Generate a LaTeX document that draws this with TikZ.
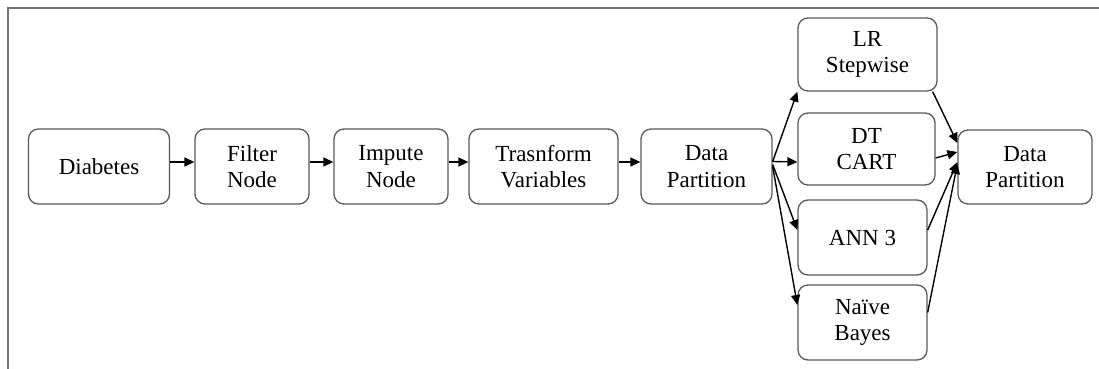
\documentclass[tikz,border=0pt]{standalone}
\usepackage{fontspec}
\setmainfont{LiberationSerif-Regular.ttf}
\usetikzlibrary{arrows.meta}
\begin{document}
\begin{tikzpicture}[x=1pt,y=-1pt,
  box/.style={draw=black!65, line width=1.3pt, rounded corners=10pt, align=center,
    font=\fontsize{23}{26.5}\selectfont, inner sep=0pt, minimum height=75pt},
  arr/.style={-{Triangle[length=10pt,width=9pt]}, line width=1.4pt, black},
  frame/.style={draw=black!55, line width=2pt}]
\useasboundingbox (0,0) rectangle (1099,369);
\draw[frame] (8,380) -- (8,8) -- (1110,8);
\node[box, minimum width=141pt] (dia) at (99,166.5) {Diabetes};
\node[box, minimum width=114pt] (fil) at (252,166.5) {Filter\\Node};
\node[box, minimum width=114pt] (imp) at (391,166.5) {Impute\\Node};
\node[box, minimum width=149pt] (tra) at (543.5,166.5) {Trasnform\\Variables};
\node[box, minimum width=131pt] (dp) at (706.5,166.5) {Data\\Partition};
\node[box, minimum width=139pt, minimum height=73pt] (lr) at (867.5,54.5) {LR\\Stepwise};
\node[box, minimum width=137pt, minimum height=72pt] (dt) at (866.5,149) {DT\\CART};
\node[box, minimum width=129pt] (ann) at (862.5,237.5) {ANN 3};
\node[box, minimum width=129pt] (nb) at (862.5,322.5) {Naïve\\Bayes};
\node[box, minimum width=134pt, minimum height=74pt] (dp2) at (1025,167) {Data\\Partition};
\draw[arr] ([yshift=4.5pt]dia.east) -- ([yshift=4.5pt]fil.west);
\draw[arr] ([yshift=4.5pt]fil.east) -- ([yshift=4.5pt]imp.west);
\draw[arr] ([yshift=4.5pt]imp.east) -- ([yshift=4.5pt]tra.west);
\draw[arr] ([yshift=4.5pt]tra.east) -- ([yshift=4.5pt]dp.west);
\draw[arr] ([yshift=5pt]dp.east) -- (lr.south west);
\draw[arr] ([yshift=5pt]dp.east) -- ([yshift=-13pt]dt.west);
\draw[arr] ([yshift=2pt]dp.east) -- ([yshift=7.5pt]ann.west);
\draw[arr] ([yshift=0pt]dp.east) -- ([yshift=17.5pt]nb.west);
\draw[arr] ([xshift=-5pt]lr.south east) -- ([yshift=24pt]dp2.west);
\draw[arr] ([yshift=-9pt]dt.east) -- ([yshift=15pt]dp2.west);
\draw[arr] ([yshift=7.5pt]ann.east) -- ([yshift=5pt]dp2.west);
\draw[arr] ([yshift=10pt]nb.east) -- ([yshift=3pt]dp2.west);
\end{tikzpicture}
\end{document}
